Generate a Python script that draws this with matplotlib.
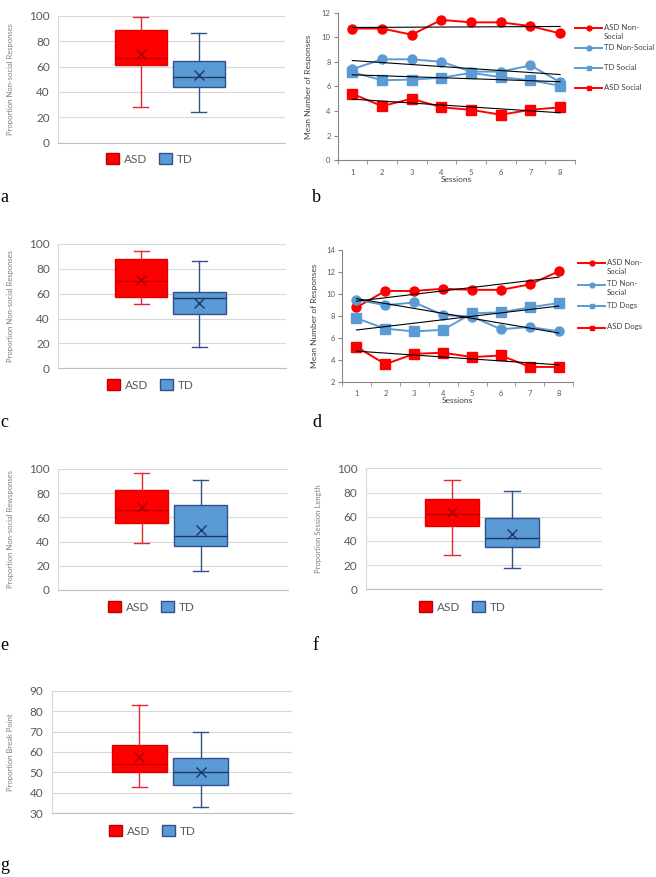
import matplotlib.pyplot as plt
import matplotlib.lines as mlines
import matplotlib.patches as mpatches
import numpy as np

W, H = 656, 877
plt.rcParams['font.family'] = ['Lato', 'DejaVu Sans']

# box panels: [low whisker, q1, median, q3, high whisker] and mean
a_asd = [28, 61, 67, 89, 99]
a_asd_mean = 69.5
a_td = [24, 44, 52, 64, 86]
a_td_mean = 53

c_asd = [51.5, 57.5, 70.5, 88, 94]
c_asd_mean = 71
c_td = [17, 43.5, 56.5, 61, 86.5]
c_td_mean = 52.5

e_asd = [38.5, 55, 66.5, 82.5, 97]
e_asd_mean = 68.5
e_td = [15.5, 36.5, 44.5, 70.5, 91]
e_td_mean = 50

f_asd = [28, 52.5, 62, 74.5, 90.5]
f_asd_mean = 63.5
f_td = [18, 35, 42, 59, 81]
f_td_mean = 45.5

g_asd = [43, 50, 54, 63.5, 83]
g_asd_mean = 57.5
g_td = [33, 44, 50, 57, 70]
g_td_mean = 50

groups = ['ASD', 'TD']

# line panels
sessions = [1, 2, 3, 4, 5, 6, 7, 8]
b_asd_nonsocial = [10.7, 10.7, 10.2, 11.4, 11.2, 11.2, 10.9, 10.3]
b_td_nonsocial = [7.4, 8.2, 8.2, 8.0, 7.2, 7.2, 7.7, 6.35]
b_td_social = [7.15, 6.5, 6.55, 6.7, 7.1, 6.75, 6.5, 6.05]
b_asd_social = [5.4, 4.4, 5.0, 4.3, 4.1, 3.7, 4.1, 4.3]
b_names = ['ASD Non-\nSocial', 'TD Non-Social', 'TD Social', 'ASD Social']

d_asd_nonsocial = [8.8, 10.3, 10.3, 10.5, 10.4, 10.4, 10.9, 12.1]
d_td_nonsocial = [9.5, 9.0, 9.25, 8.1, 7.95, 6.8, 7.0, 6.6]
d_td_dogs = [7.8, 6.85, 6.6, 6.75, 8.25, 8.35, 8.8, 9.2]
d_asd_dogs = [5.2, 3.6, 4.55, 4.65, 4.25, 4.4, 3.35, 3.35]
d_names = ['ASD Non-\nSocial', 'TD Non-\nSocial', 'TD Dogs', 'ASD Dogs']

RED = '#FF0000'
BLUE = '#5B9BD5'
GRAY = '#595959'

fig = plt.figure(figsize=(W / 100, H / 100), dpi=100)


def px(x, y):
    return x / W, 1 - y / H


def axes_px(left, top, right, bottom):
    return fig.add_axes([left / W, 1 - bottom / H, (right - left) / W, (bottom - top) / H])


def box_panel(rect, asd, asd_mean, td, td_mean, ylim, ystep, ylabel, label_x, legend_xy):
    ax = axes_px(*rect)
    stats = []
    for vals, m in ((asd, asd_mean), (td, td_mean)):
        lo, q1, med, q3, hi = vals
        stats.append(dict(whislo=lo, q1=q1, med=med, q3=q3, whishi=hi, mean=m, fliers=[]))
    bp = ax.bxp(stats, positions=[0.365, 0.62], widths=0.23, showmeans=True,
                patch_artist=True, capwidths=0.065, manage_ticks=False)
    styles = [(RED, '#E00000', '#E8282C', '#C00000', '#A50000'),
              (BLUE, '#2F528F', '#2F528F', '#1F3864', '#1F3864')]
    for i, (fc, ec, wc, mc, xc) in enumerate(styles):
        bp['boxes'][i].set(facecolor=fc, edgecolor=ec, linewidth=1.0)
        for w in bp['whiskers'][2 * i:2 * i + 2] + bp['caps'][2 * i:2 * i + 2]:
            w.set(color=wc, linewidth=1.0)
        bp['medians'][i].set(color=mc, linewidth=1.0)
        bp['means'][i].set(marker='x', markeredgecolor=xc, markersize=7, markeredgewidth=1.0)
    ax.set_xlim(0, 1)
    ax.set_ylim(*ylim)
    ax.set_yticks(np.arange(ylim[0], ylim[1] + 1, ystep))
    ax.set_xticks([])
    ax.grid(axis='y', color='#D9D9D9', linewidth=0.8)
    ax.set_axisbelow(True)
    for s in ['top', 'right']:
        ax.spines[s].set_visible(False)
    ax.spines['left'].set_color('#D9D9D9')
    ax.spines['bottom'].set_color('#BFBFBF')
    ax.tick_params(axis='y', length=0, labelsize=8.5, labelcolor=GRAY, pad=6)
    ax.set_ylabel(ylabel, fontsize=5.5, color='#7F7F7F')
    ax.yaxis.set_label_coords((label_x - rect[0]) / (rect[2] - rect[0]), 0.5)
    handles = [mpatches.Patch(facecolor=RED, edgecolor='#C00000'),
               mpatches.Patch(facecolor=BLUE, edgecolor='#2F528F')]
    fig.legend(handles, groups, loc='center', bbox_to_anchor=px(*legend_xy), ncol=2,
               frameon=False, fontsize=8.5, handlelength=1.1, handleheight=1.1,
               handletextpad=0.4, columnspacing=1.0, labelcolor=GRAY)
    return ax


def line_panel(rect, series, names, ylim, label_x, legend_x, legend_y0, legend_dy):
    ax = axes_px(*rect)
    styles = [(RED, 'o'), (BLUE, 'o'), (BLUE, 's'), (RED, 's')]
    for vals, (col, mk) in zip(series, styles):
        ax.plot(sessions, vals, color=col, marker=mk, linewidth=1.4, markersize=6.5, zorder=2)
    for vals in series:
        coef = np.polyfit(sessions, vals, 1)
        ax.plot(sessions, np.polyval(coef, sessions), color='black', linewidth=0.8, zorder=3)
    ax.set_xlim(0.5, 8.5)
    ax.set_ylim(*ylim)
    ax.set_yticks(np.arange(ylim[0], ylim[1] + 1, 2))
    ax.set_xticks(sessions)
    ax.set_xticks(np.arange(0.5, 9, 1), minor=True)
    for s in ['top', 'right']:
        ax.spines[s].set_visible(False)
    for s in ['left', 'bottom']:
        ax.spines[s].set_color('#868686')
        ax.spines[s].set_linewidth(0.8)
    ax.tick_params(axis='y', length=3, color='#868686', labelsize=5.5, labelcolor=GRAY, pad=2)
    ax.tick_params(axis='x', which='major', length=0, labelsize=5.5, labelcolor=GRAY, pad=6)
    ax.tick_params(axis='x', which='minor', length=3, color='#868686')
    ax.set_xlabel('Sessions', fontsize=6, color='#404040', labelpad=0)
    ax.set_ylabel('Mean Number of Responses', fontsize=6, color='#404040')
    ax.yaxis.set_label_coords((label_x - rect[0]) / (rect[2] - rect[0]), 0.5)
    # legend drawn to the right of the plot
    for i, ((col, mk), name) in enumerate(zip(styles, names)):
        y = legend_y0 + i * legend_dy
        fig.add_artist(mlines.Line2D([legend_x / W, (legend_x + 27) / W], [1 - y / H] * 2,
                                     transform=fig.transFigure, color=col, linewidth=1.4))
        fig.add_artist(mlines.Line2D([(legend_x + 13.5) / W], [1 - y / H], transform=fig.transFigure,
                                     color=col, marker=mk, markersize=3.5, linestyle='none'))
        fig.text(*px(legend_x + 29, y - 4.5), name, fontsize=5.6, color='#404040',
                 va='top', ha='left', linespacing=1.35)
    return ax


box_panel((58, 15.7, 285, 142.7), a_asd, a_asd_mean, a_td, a_td_mean, (0, 100), 20,
          'Proportion Non-social Responses', 14, (149, 159))
line_panel((337.5, 12.5, 575, 160.3), [b_asd_nonsocial, b_td_nonsocial, b_td_social, b_asd_social],
           b_names, (0, 12), 311.7, 575, 28, 20)
box_panel((58, 244, 286, 368.3), c_asd, c_asd_mean, c_td, c_td_mean, (0, 100), 20,
          'Proportion Non-social Responses', 14, (150, 385))
line_panel((342, 250.5, 573.3, 381.7), [d_asd_nonsocial, d_td_nonsocial, d_td_dogs, d_asd_dogs],
           d_names, (2, 14), 317.7, 578, 263.3, 21.5)
box_panel((58, 469, 288, 590), e_asd, e_asd_mean, e_td, e_td_mean, (0, 100), 20,
          'Proportion Non-social Rewsponses', 14, (151, 606.7))
box_panel((365.7, 468.3, 601.7, 589.3), f_asd, f_asd_mean, f_td, f_td_mean, (0, 100), 20,
          'Proportion Session Length', 321.7, (462, 606.7))
box_panel((51.7, 690.7, 291.7, 813.3), g_asd, g_asd_mean, g_td, g_td_mean, (30, 90), 10,
          'Proportion Break Point', 14, (152, 830.7))

for letter, x, y in [('a', 0.5, 202), ('b', 312, 202), ('c', 0.5, 427), ('d', 312, 427),
                     ('e', 0.5, 650), ('f', 312, 650), ('g', 0.5, 870)]:
    fig.text(*px(x, y), letter, fontsize=13, family='Liberation Serif', va='baseline', ha='left')

fig.savefig('out.png', dpi=100)
